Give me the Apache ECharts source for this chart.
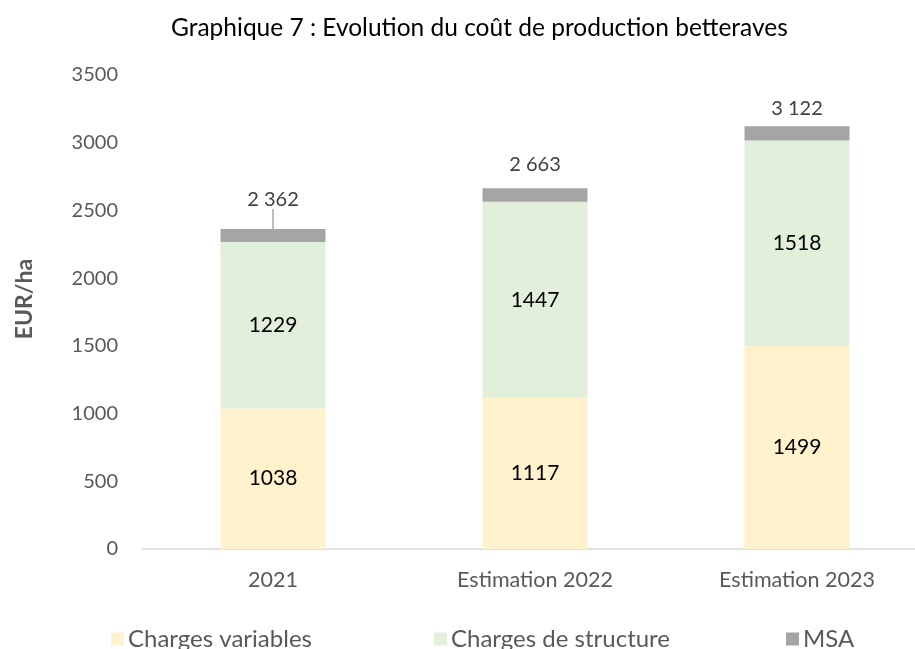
<!DOCTYPE html>
<html>
<head>
<meta charset="utf-8">
<script src="https://cdn.jsdelivr.net/npm/echarts@6/dist/echarts.min.js"></script>
<style>
html, body { margin: 0; padding: 0; background: #fff; }
#chart { width: 915px; height: 649px; }
</style>
</head>
<body>
<div id="chart"></div>
<script>
var categories = ['2021', 'Estimation 2022', 'Estimation 2023'];
var chargesVariables = [1038, 1117, 1499];
var chargesStructure = [1229, 1447, 1518];
var msa = [95, 99, 105];
var totalLabels = ['2 362', '2 663', '3 122'];
var yTicks = [0, 500, 1000, 1500, 2000, 2500, 3000, 3500];

var font = 'Lato, "Open Sans", sans-serif';
var chart = echarts.init(document.getElementById('chart'));

function legendAt(name, left) {
    return {
        data: [name],
        left: left,
        top: 622,
        itemWidth: 13,
        itemHeight: 13,
        itemGap: 0,
        icon: 'rect',
        textStyle: { color: '#595959', fontSize: 24, fontFamily: font, padding: [0, 0, 0, -1] }
    };
}

// seul le premier total a un trait de rappel
var msaData = msa.map(function (v, i) {
    return { value: v, labelLine: { show: i === 0 } };
});

var option = {
    animation: false,
    title: {
        text: 'Graphique 7 : Evolution du coût de production betteraves',
        left: 166,
        top: 11,
        textStyle: { color: '#000', fontSize: 24.5, fontWeight: 'normal', fontFamily: font }
    },
    legend: [
        legendAt('Charges variables', 106),
        legendAt('Charges de structure', 429),
        legendAt('MSA', 781)
    ],
    grid: { left: 142, top: 75, width: 786, height: 474, outerBoundsMode: 'none' },
    xAxis: {
        type: 'category',
        data: categories,
        axisLine: { lineStyle: { color: '#d9d9d9', width: 1.5 } },
        axisTick: { show: false },
        axisLabel: { color: '#595959', fontSize: 21.5, fontFamily: font, margin: 20 }
    },
    yAxis: {
        type: 'value',
        min: 0,
        max: 3500,
        interval: 500,
        name: 'EUR/ha',
        nameLocation: 'middle',
        nameGap: 106,
        nameTextStyle: { color: '#595959', fontSize: 23, fontWeight: 'bold', fontFamily: font,
            padding: [0, 0, 0, 26] },
        axisLine: { show: false },
        axisTick: { show: false },
        splitLine: { show: false },
        axisLabel: { color: '#595959', fontSize: 20, fontFamily: font, margin: 24,
            formatter: function (v) { return yTicks.indexOf(v) >= 0 ? String(v) : ''; } }
    },
    series: [
        {
            name: 'Charges variables',
            type: 'bar',
            stack: 'cout',
            barWidth: 105,
            itemStyle: { color: '#FFF2CC' },
            label: { show: true, position: 'inside', color: '#000', fontSize: 21, fontFamily: font },
            data: chargesVariables
        },
        {
            name: 'Charges de structure',
            type: 'bar',
            stack: 'cout',
            itemStyle: { color: '#E2EFDA' },
            label: { show: true, position: 'inside', color: '#000', fontSize: 21, fontFamily: font },
            data: chargesStructure
        },
        {
            name: 'MSA',
            type: 'bar',
            stack: 'cout',
            itemStyle: { color: '#A5A5A5' },
            label: {
                show: true,
                position: 'top',
                distance: 8,
                color: '#404040',
                fontSize: 20,
                fontFamily: font,
                formatter: function (p) { return totalLabels[p.dataIndex]; }
            },
            labelLayout: function (p) {
                if (p.dataIndex === 0) return { dy: -12 };
                if (p.dataIndex === 1) return { dy: -6 };
                return {};
            },
            labelLine: { length2: 0, lineStyle: { color: '#a6a6a6', width: 1.5 } },
            data: msaData
        }
    ]
};

chart.setOption(option);
</script>
</body>
</html>
